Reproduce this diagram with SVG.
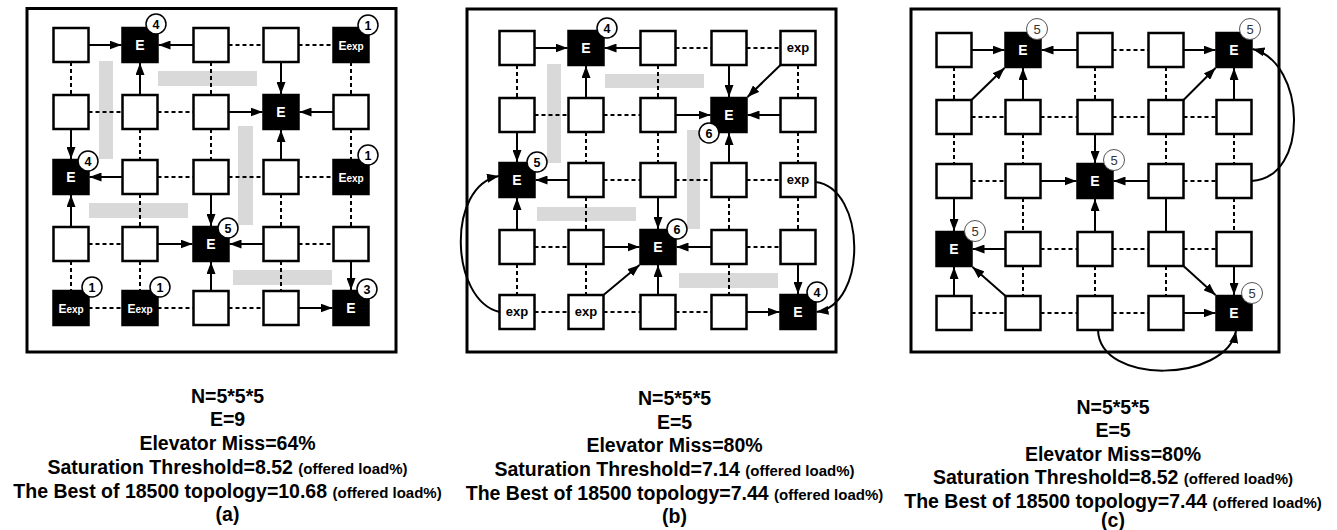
<svg xmlns="http://www.w3.org/2000/svg" width="1337" height="530" viewBox="0 0 1337 530">
<defs>
<marker id="ah" markerUnits="userSpaceOnUse" markerWidth="12" markerHeight="9" refX="12" refY="4.5" orient="auto"><path d="M0,0 L12,4.5 L0,9 z" fill="#000"/></marker>
<style>
.fr{fill:none;stroke:#000;stroke-width:3}
.bar{fill:#d9d9d9}
.n{fill:#fff;stroke:#000;stroke-width:2.5}
.e{fill:#000;stroke:#000;stroke-width:2.5}
.et{fill:#fff;font-family:"Liberation Sans",Arial,sans-serif;font-weight:bold;font-size:14px;text-anchor:middle}
.xt{fill:#fff;font-family:"Liberation Sans",Arial,sans-serif;font-weight:bold;font-size:12px;text-anchor:middle}
.pt{fill:#000;font-family:"Liberation Sans",Arial,sans-serif;font-weight:bold;font-size:13px;text-anchor:middle}
.bc{fill:#fff;stroke:#000;stroke-width:1.5}
.bt{fill:#000;font-family:"Liberation Sans",Arial,sans-serif;font-weight:bold;font-size:12.5px;text-anchor:middle}
.bc2{fill:#fff;stroke:#555;stroke-width:1}
.bt2{fill:#333;font-family:"Liberation Sans",Arial,sans-serif;font-size:13px;text-anchor:middle}
.d{stroke:#000;stroke-width:2;stroke-dasharray:4 3;fill:none}
.a{stroke:#000;stroke-width:2;fill:none;marker-end:url(#ah)}
.s{stroke:#000;stroke-width:2;fill:none}
.cap{fill:#000;font-family:"Liberation Sans",Arial,sans-serif;font-weight:bold;font-size:19.5px;text-anchor:middle}
.sm{font-size:15px}
</style>
</defs>
<rect width="1337" height="530" fill="#fff"/>

<!-- frames -->
<rect class="fr" x="27" y="8.5" width="369" height="343.5"/>
<rect class="fr" x="467" y="9" width="369" height="343"/>
<rect class="fr" x="911" y="9" width="368" height="343"/>

<!-- gray bars -->
<g id="bars">
<rect class="bar" x="99" y="61" width="14" height="98"/>
<rect class="bar" x="158" y="71" width="99" height="15"/>
<rect class="bar" x="238" y="126" width="15" height="99"/>
<rect class="bar" x="89" y="203" width="99" height="15"/>
<rect class="bar" x="233" y="270" width="99" height="15"/>
<rect class="bar" x="547" y="64" width="14" height="99"/>
<rect class="bar" x="605" y="74" width="99" height="14"/>
<rect class="bar" x="687" y="130" width="13" height="99"/>
<rect class="bar" x="537" y="207" width="99" height="14"/>
<rect class="bar" x="679" y="273" width="99" height="15"/>
</g>

<g id="connectors">
<!-- panel a -->
<line class="a" x1="88.5" y1="45" x2="121.5" y2="45"/>
<line class="a" x1="193.5" y1="45" x2="158.5" y2="45"/>
<line class="d" x1="228.5" y1="45" x2="263.5" y2="45"/>
<line class="d" x1="298.5" y1="45" x2="333.5" y2="45"/>
<line class="d" x1="88.5" y1="112" x2="122.5" y2="112"/>
<line class="d" x1="157.5" y1="112" x2="193.5" y2="112"/>
<line class="a" x1="228.5" y1="112" x2="262.5" y2="112"/>
<line class="a" x1="333.5" y1="112" x2="299.5" y2="112"/>
<line class="a" x1="122.5" y1="177" x2="89.5" y2="177"/>
<line class="d" x1="157.5" y1="177" x2="193.5" y2="177"/>
<line class="d" x1="228.5" y1="177" x2="263.5" y2="177"/>
<line class="d" x1="298.5" y1="177" x2="333.5" y2="177"/>
<line class="d" x1="88.5" y1="244" x2="122.5" y2="244"/>
<line class="a" x1="157.5" y1="244" x2="192.5" y2="244"/>
<line class="a" x1="263.5" y1="244" x2="229.5" y2="244"/>
<line class="d" x1="298.5" y1="244" x2="333.5" y2="244"/>
<line class="d" x1="88.5" y1="308" x2="122.5" y2="308"/>
<line class="d" x1="157.5" y1="308" x2="193.5" y2="308"/>
<line class="d" x1="228.5" y1="308" x2="263.5" y2="308"/>
<line class="a" x1="298.5" y1="308" x2="332.5" y2="308"/>
<line class="d" x1="71" y1="62" x2="71" y2="95"/>
<line class="a" x1="71" y1="129" x2="71" y2="159"/>
<line class="a" x1="71" y1="227" x2="71" y2="195"/>
<line class="d" x1="71" y1="261" x2="71" y2="291"/>
<line class="a" x1="140" y1="95" x2="140" y2="63"/>
<line class="d" x1="140" y1="129" x2="140" y2="160"/>
<line class="d" x1="140" y1="194" x2="140" y2="227"/>
<line class="d" x1="140" y1="261" x2="140" y2="291"/>
<line class="d" x1="211" y1="62" x2="211" y2="95"/>
<line class="d" x1="211" y1="129" x2="211" y2="160"/>
<line class="a" x1="211" y1="194" x2="211" y2="226"/>
<line class="a" x1="211" y1="291" x2="211" y2="262"/>
<line class="a" x1="281" y1="62" x2="281" y2="94"/>
<line class="a" x1="281" y1="160" x2="281" y2="130"/>
<line class="d" x1="281" y1="194" x2="281" y2="227"/>
<line class="d" x1="281" y1="261" x2="281" y2="291"/>
<line class="d" x1="351" y1="62" x2="351" y2="95"/>
<line class="d" x1="351" y1="129" x2="351" y2="160"/>
<line class="d" x1="351" y1="194" x2="351" y2="227"/>
<line class="a" x1="351" y1="261" x2="351" y2="290"/>

<!-- panel b -->
<line class="a" x1="534.5" y1="48" x2="567.5" y2="48"/>
<line class="a" x1="640.5" y1="48" x2="604.5" y2="48"/>
<line class="d" x1="675.5" y1="48" x2="711.5" y2="48"/>
<line class="d" x1="746.5" y1="48" x2="780.5" y2="48"/>
<line class="d" x1="534.5" y1="115" x2="568.5" y2="115"/>
<line class="d" x1="603.5" y1="115" x2="640.5" y2="115"/>
<line class="a" x1="675.5" y1="115" x2="710.5" y2="115"/>
<line class="a" x1="780.5" y1="115" x2="747.5" y2="115"/>
<line class="a" x1="568.5" y1="180" x2="535.5" y2="180"/>
<line class="d" x1="603.5" y1="180" x2="640.5" y2="180"/>
<line class="d" x1="675.5" y1="180" x2="711.5" y2="180"/>
<line class="d" x1="746.5" y1="180" x2="780.5" y2="180"/>
<line class="d" x1="534.5" y1="247" x2="568.5" y2="247"/>
<line class="a" x1="603.5" y1="247" x2="639.5" y2="247"/>
<line class="a" x1="711.5" y1="247" x2="676.5" y2="247"/>
<line class="d" x1="746.5" y1="247" x2="780.5" y2="247"/>
<line class="d" x1="534.5" y1="312" x2="568.5" y2="312"/>
<line class="d" x1="603.5" y1="312" x2="640.5" y2="312"/>
<line class="d" x1="675.5" y1="312" x2="711.5" y2="312"/>
<line class="a" x1="746.5" y1="312" x2="779.5" y2="312"/>
<line class="d" x1="517" y1="65" x2="517" y2="98"/>
<line class="a" x1="517" y1="132" x2="517" y2="162"/>
<line class="a" x1="517" y1="230" x2="517" y2="198"/>
<line class="d" x1="517" y1="264" x2="517" y2="295"/>
<line class="a" x1="586" y1="98" x2="586" y2="66"/>
<line class="d" x1="586" y1="132" x2="586" y2="163"/>
<line class="d" x1="586" y1="197" x2="586" y2="230"/>
<line class="d" x1="586" y1="264" x2="586" y2="295"/>
<line class="d" x1="658" y1="65" x2="658" y2="98"/>
<line class="d" x1="658" y1="132" x2="658" y2="163"/>
<line class="a" x1="658" y1="197" x2="658" y2="229"/>
<line class="a" x1="658" y1="295" x2="658" y2="265"/>
<line class="a" x1="729" y1="65" x2="729" y2="97"/>
<line class="a" x1="729" y1="163" x2="729" y2="133"/>
<line class="d" x1="729" y1="197" x2="729" y2="230"/>
<line class="d" x1="729" y1="264" x2="729" y2="295"/>
<line class="d" x1="798" y1="65" x2="798" y2="98"/>
<line class="d" x1="798" y1="132" x2="798" y2="163"/>
<line class="d" x1="798" y1="197" x2="798" y2="230"/>
<line class="a" x1="798" y1="264" x2="798" y2="294"/>
<line class="a" x1="780.5" y1="65" x2="747.5" y2="97"/>
<line class="a" x1="603.5" y1="295" x2="639.5" y2="265"/>
<path class="a" d="M499.5,312 C450,300 446,186 499,176"/>
<path class="a" d="M815.5,182 C866,188 868,305 816.5,312"/>

<!-- panel c -->
<line class="a" x1="971.5" y1="50" x2="1004.5" y2="50"/>
<line class="a" x1="1077.5" y1="50" x2="1041.5" y2="50"/>
<line class="d" x1="1112.5" y1="50" x2="1148.5" y2="50"/>
<line class="a" x1="1183.5" y1="50" x2="1215.5" y2="50"/>
<line class="d" x1="971.5" y1="117" x2="1005.5" y2="117"/>
<line class="d" x1="1040.5" y1="117" x2="1077.5" y2="117"/>
<line class="d" x1="1112.5" y1="117" x2="1148.5" y2="117"/>
<line class="d" x1="1183.5" y1="117" x2="1216.5" y2="117"/>
<line class="d" x1="971.5" y1="181" x2="1005.5" y2="181"/>
<line class="a" x1="1040.5" y1="181" x2="1076.5" y2="181"/>
<line class="a" x1="1148.5" y1="181" x2="1113.5" y2="181"/>
<line class="d" x1="1183.5" y1="181" x2="1216.5" y2="181"/>
<line class="a" x1="1005.5" y1="249" x2="972.5" y2="249"/>
<line class="d" x1="1040.5" y1="249" x2="1077.5" y2="249"/>
<line class="d" x1="1112.5" y1="249" x2="1148.5" y2="249"/>
<line class="d" x1="1183.5" y1="249" x2="1216.5" y2="249"/>
<line class="d" x1="971.5" y1="313" x2="1005.5" y2="313"/>
<line class="d" x1="1040.5" y1="313" x2="1077.5" y2="313"/>
<line class="d" x1="1112.5" y1="313" x2="1148.5" y2="313"/>
<line class="a" x1="1183.5" y1="313" x2="1215.5" y2="313"/>
<line class="d" x1="954" y1="67" x2="954" y2="100"/>
<line class="d" x1="954" y1="134" x2="954" y2="164"/>
<line class="a" x1="954" y1="198" x2="954" y2="231"/>
<line class="a" x1="954" y1="296" x2="954" y2="267"/>
<line class="a" x1="1023" y1="100" x2="1023" y2="68"/>
<line class="d" x1="1023" y1="134" x2="1023" y2="164"/>
<line class="d" x1="1023" y1="198" x2="1023" y2="232"/>
<line class="d" x1="1023" y1="266" x2="1023" y2="296"/>
<line class="d" x1="1095" y1="67" x2="1095" y2="100"/>
<line class="a" x1="1095" y1="134" x2="1095" y2="163"/>
<line class="a" x1="1095" y1="232" x2="1095" y2="199"/>
<line class="d" x1="1095" y1="266" x2="1095" y2="296"/>
<line class="d" x1="1166" y1="67" x2="1166" y2="100"/>
<line class="d" x1="1166" y1="134" x2="1166" y2="164"/>
<line class="s" x1="1166" y1="198" x2="1166" y2="232"/>
<line class="d" x1="1166" y1="266" x2="1166" y2="296"/>
<line class="a" x1="1234" y1="100" x2="1234" y2="68"/>
<line class="d" x1="1234" y1="134" x2="1234" y2="164"/>
<line class="d" x1="1234" y1="198" x2="1234" y2="232"/>
<line class="a" x1="1234" y1="266" x2="1234" y2="295"/>
<line class="a" x1="971.5" y1="100" x2="1004.5" y2="68"/>
<line class="a" x1="1183.5" y1="100" x2="1215.5" y2="68"/>
<line class="a" x1="1005.5" y1="296" x2="972.5" y2="267"/>
<line class="a" x1="1183.5" y1="266" x2="1215.5" y2="295"/>
<path class="a" d="M1251.5,181 C1310,178 1306,62 1252.5,49"/>
<path class="a" d="M1098,330 C1100,386 1226,382 1236,331"/>
</g>

<!-- panel a nodes -->
<g id="a-r0c0"><rect class="n" x="53.5" y="28" width="35" height="34"/></g>
<g id="a-r0c1"><rect class="e" x="122.5" y="28" width="35" height="34"/><text class="et" x="140" y="50">E</text><circle class="bc" cx="156" cy="24" r="10"/><text class="bt" x="156" y="28.5">4</text></g>
<g id="a-r0c2"><rect class="n" x="193.5" y="28" width="35" height="34"/></g>
<g id="a-r0c3"><rect class="n" x="263.5" y="28" width="35" height="34"/></g>
<g id="a-r0c4"><rect class="e" x="333.5" y="28" width="35" height="34"/><text class="xt" x="351" y="49.5">E<tspan font-size="10">exp</tspan></text><circle class="bc" cx="368" cy="25" r="10"/><text class="bt" x="368" y="29.5">1</text></g>
<g id="a-r1c0"><rect class="n" x="53.5" y="95" width="35" height="34"/></g>
<g id="a-r1c1"><rect class="n" x="122.5" y="95" width="35" height="34"/></g>
<g id="a-r1c2"><rect class="n" x="193.5" y="95" width="35" height="34"/></g>
<g id="a-r1c3"><rect class="e" x="263.5" y="95" width="35" height="34"/><text class="et" x="281" y="117">E</text></g>
<g id="a-r1c4"><rect class="n" x="333.5" y="95" width="35" height="34"/></g>
<g id="a-r2c0"><rect class="e" x="53.5" y="160" width="35" height="34"/><text class="et" x="71" y="182">E</text><circle class="bc" cx="88" cy="161" r="10"/><text class="bt" x="88" y="165.5">4</text></g>
<g id="a-r2c1"><rect class="n" x="122.5" y="160" width="35" height="34"/></g>
<g id="a-r2c2"><rect class="n" x="193.5" y="160" width="35" height="34"/></g>
<g id="a-r2c3"><rect class="n" x="263.5" y="160" width="35" height="34"/></g>
<g id="a-r2c4"><rect class="e" x="333.5" y="160" width="35" height="34"/><text class="xt" x="351" y="181.5">E<tspan font-size="10">exp</tspan></text><circle class="bc" cx="368" cy="155" r="10"/><text class="bt" x="368" y="159.5">1</text></g>
<g id="a-r3c0"><rect class="n" x="53.5" y="227" width="35" height="34"/></g>
<g id="a-r3c1"><rect class="n" x="122.5" y="227" width="35" height="34"/></g>
<g id="a-r3c2"><rect class="e" x="193.5" y="227" width="35" height="34"/><text class="et" x="211" y="249">E</text><circle class="bc" cx="228" cy="228" r="10"/><text class="bt" x="228" y="232.5">5</text></g>
<g id="a-r3c3"><rect class="n" x="263.5" y="227" width="35" height="34"/></g>
<g id="a-r3c4"><rect class="n" x="333.5" y="227" width="35" height="34"/></g>
<g id="a-r4c0"><rect class="e" x="53.5" y="291" width="35" height="34"/><text class="xt" x="71" y="312.5">E<tspan font-size="10">exp</tspan></text><circle class="bc" cx="92" cy="287" r="10"/><text class="bt" x="92" y="291.5">1</text></g>
<g id="a-r4c1"><rect class="e" x="122.5" y="291" width="35" height="34"/><text class="xt" x="140" y="312.5">E<tspan font-size="10">exp</tspan></text><circle class="bc" cx="160" cy="287" r="10"/><text class="bt" x="160" y="291.5">1</text></g>
<g id="a-r4c2"><rect class="n" x="193.5" y="291" width="35" height="34"/></g>
<g id="a-r4c3"><rect class="n" x="263.5" y="291" width="35" height="34"/></g>
<g id="a-r4c4"><rect class="e" x="333.5" y="291" width="35" height="34"/><text class="et" x="351" y="313">E</text><circle class="bc" cx="367" cy="289" r="10"/><text class="bt" x="367" y="293.5">3</text></g>

<!-- panel b nodes -->
<g id="b-r0c0"><rect class="n" x="499.5" y="31" width="35" height="34"/></g>
<g id="b-r0c1"><rect class="e" x="568.5" y="31" width="35" height="34"/><text class="et" x="586" y="53">E</text><circle class="bc" cx="607" cy="28" r="10"/><text class="bt" x="607" y="32.5">4</text></g>
<g id="b-r0c2"><rect class="n" x="640.5" y="31" width="35" height="34"/></g>
<g id="b-r0c3"><rect class="n" x="711.5" y="31" width="35" height="34"/></g>
<g id="b-r0c4"><rect class="n" x="780.5" y="31" width="35" height="34"/><text class="pt" x="798" y="52">exp</text></g>
<g id="b-r1c0"><rect class="n" x="499.5" y="98" width="35" height="34"/></g>
<g id="b-r1c1"><rect class="n" x="568.5" y="98" width="35" height="34"/></g>
<g id="b-r1c2"><rect class="n" x="640.5" y="98" width="35" height="34"/></g>
<g id="b-r1c3"><rect class="e" x="711.5" y="98" width="35" height="34"/><text class="et" x="729" y="120">E</text><circle class="bc" cx="709" cy="133" r="10"/><text class="bt" x="709" y="137.5">6</text></g>
<g id="b-r1c4"><rect class="n" x="780.5" y="98" width="35" height="34"/></g>
<g id="b-r2c0"><rect class="e" x="499.5" y="163" width="35" height="34"/><text class="et" x="517" y="185">E</text><circle class="bc" cx="537" cy="162" r="10"/><text class="bt" x="537" y="166.5">5</text></g>
<g id="b-r2c1"><rect class="n" x="568.5" y="163" width="35" height="34"/></g>
<g id="b-r2c2"><rect class="n" x="640.5" y="163" width="35" height="34"/></g>
<g id="b-r2c3"><rect class="n" x="711.5" y="163" width="35" height="34"/></g>
<g id="b-r2c4"><rect class="n" x="780.5" y="163" width="35" height="34"/><text class="pt" x="798" y="184">exp</text></g>
<g id="b-r3c0"><rect class="n" x="499.5" y="230" width="35" height="34"/></g>
<g id="b-r3c1"><rect class="n" x="568.5" y="230" width="35" height="34"/></g>
<g id="b-r3c2"><rect class="e" x="640.5" y="230" width="35" height="34"/><text class="et" x="658" y="252">E</text><circle class="bc" cx="677" cy="229" r="10"/><text class="bt" x="677" y="233.5">6</text></g>
<g id="b-r3c3"><rect class="n" x="711.5" y="230" width="35" height="34"/></g>
<g id="b-r3c4"><rect class="n" x="780.5" y="230" width="35" height="34"/></g>
<g id="b-r4c0"><rect class="n" x="499.5" y="295" width="35" height="34"/><text class="pt" x="517" y="316">exp</text></g>
<g id="b-r4c1"><rect class="n" x="568.5" y="295" width="35" height="34"/><text class="pt" x="586" y="316">exp</text></g>
<g id="b-r4c2"><rect class="n" x="640.5" y="295" width="35" height="34"/></g>
<g id="b-r4c3"><rect class="n" x="711.5" y="295" width="35" height="34"/></g>
<g id="b-r4c4"><rect class="e" x="780.5" y="295" width="35" height="34"/><text class="et" x="798" y="317">E</text><circle class="bc" cx="817" cy="292" r="10"/><text class="bt" x="817" y="296.5">4</text></g>

<!-- panel c nodes -->
<g id="c-r0c0"><rect class="n" x="936.5" y="33" width="35" height="34"/></g>
<g id="c-r0c1"><rect class="e" x="1005.5" y="33" width="35" height="34"/><text class="et" x="1023" y="55">E</text><circle class="bc2" cx="1037" cy="29" r="10.5"/><text class="bt2" x="1037" y="33.5">5</text></g>
<g id="c-r0c2"><rect class="n" x="1077.5" y="33" width="35" height="34"/></g>
<g id="c-r0c3"><rect class="n" x="1148.5" y="33" width="35" height="34"/></g>
<g id="c-r0c4"><rect class="e" x="1216.5" y="33" width="35" height="34"/><text class="et" x="1234" y="55">E</text><circle class="bc2" cx="1250" cy="29" r="10.5"/><text class="bt2" x="1250" y="33.5">5</text></g>
<g id="c-r1c0"><rect class="n" x="936.5" y="100" width="35" height="34"/></g>
<g id="c-r1c1"><rect class="n" x="1005.5" y="100" width="35" height="34"/></g>
<g id="c-r1c2"><rect class="n" x="1077.5" y="100" width="35" height="34"/></g>
<g id="c-r1c3"><rect class="n" x="1148.5" y="100" width="35" height="34"/></g>
<g id="c-r1c4"><rect class="n" x="1216.5" y="100" width="35" height="34"/></g>
<g id="c-r2c0"><rect class="n" x="936.5" y="164" width="35" height="34"/></g>
<g id="c-r2c1"><rect class="n" x="1005.5" y="164" width="35" height="34"/></g>
<g id="c-r2c2"><rect class="e" x="1077.5" y="164" width="35" height="34"/><text class="et" x="1095" y="186">E</text><circle class="bc2" cx="1114" cy="160" r="10.5"/><text class="bt2" x="1114" y="164.5">5</text></g>
<g id="c-r2c3"><rect class="n" x="1148.5" y="164" width="35" height="34"/></g>
<g id="c-r2c4"><rect class="n" x="1216.5" y="164" width="35" height="34"/></g>
<g id="c-r3c0"><rect class="e" x="936.5" y="232" width="35" height="34"/><text class="et" x="954" y="254">E</text><circle class="bc2" cx="975" cy="231" r="10.5"/><text class="bt2" x="975" y="235.5">5</text></g>
<g id="c-r3c1"><rect class="n" x="1005.5" y="232" width="35" height="34"/></g>
<g id="c-r3c2"><rect class="n" x="1077.5" y="232" width="35" height="34"/></g>
<g id="c-r3c3"><rect class="n" x="1148.5" y="232" width="35" height="34"/></g>
<g id="c-r3c4"><rect class="n" x="1216.5" y="232" width="35" height="34"/></g>
<g id="c-r4c0"><rect class="n" x="936.5" y="296" width="35" height="34"/></g>
<g id="c-r4c1"><rect class="n" x="1005.5" y="296" width="35" height="34"/></g>
<g id="c-r4c2"><rect class="n" x="1077.5" y="296" width="35" height="34"/></g>
<g id="c-r4c3"><rect class="n" x="1148.5" y="296" width="35" height="34"/></g>
<g id="c-r4c4"><rect class="e" x="1216.5" y="296" width="35" height="34"/><text class="et" x="1234" y="318">E</text><circle class="bc2" cx="1252" cy="293" r="10.5"/><text class="bt2" x="1252" y="297.5">5</text></g>

<!-- captions -->
<g id="caption-a">
<text class="cap" x="227.5" y="402.5">N=5*5*5</text>
<text class="cap" x="227.5" y="425.5">E=9</text>
<text class="cap" x="227.5" y="449.5">Elevator Miss=64%</text>
<text class="cap" x="227.5" y="473.5">Saturation Threshold=8.52 <tspan class="sm">(offered load%)</tspan></text>
<text class="cap" x="227.5" y="497.5">The Best of 18500 topology=10.68 <tspan class="sm">(offered load%)</tspan></text>
<text class="cap" x="227.5" y="521">(a)</text>
</g>
<g id="caption-b">
<text class="cap" x="674.5" y="405">N=5*5*5</text>
<text class="cap" x="674.5" y="428.5">E=5</text>
<text class="cap" x="674.5" y="452">Elevator Miss=80%</text>
<text class="cap" x="674.5" y="476">Saturation Threshold=7.14 <tspan class="sm">(offered load%)</tspan></text>
<text class="cap" x="674.5" y="499.5">The Best of 18500 topology=7.44 <tspan class="sm">(offered load%)</tspan></text>
<text class="cap" x="674.5" y="523">(b)</text>
</g>
<g id="caption-c">
<text class="cap" x="1113" y="414">N=5*5*5</text>
<text class="cap" x="1113" y="437">E=5</text>
<text class="cap" x="1113" y="460.5">Elevator Miss=80%</text>
<text class="cap" x="1113" y="484">Saturation Threshold=8.52 <tspan class="sm">(offered load%)</tspan></text>
<text class="cap" x="1113" y="507.5">The Best of 18500 topology=7.44 <tspan class="sm">(offered load%)</tspan></text>
<text class="cap" x="1113" y="527">(c)</text>
</g>
</svg>
